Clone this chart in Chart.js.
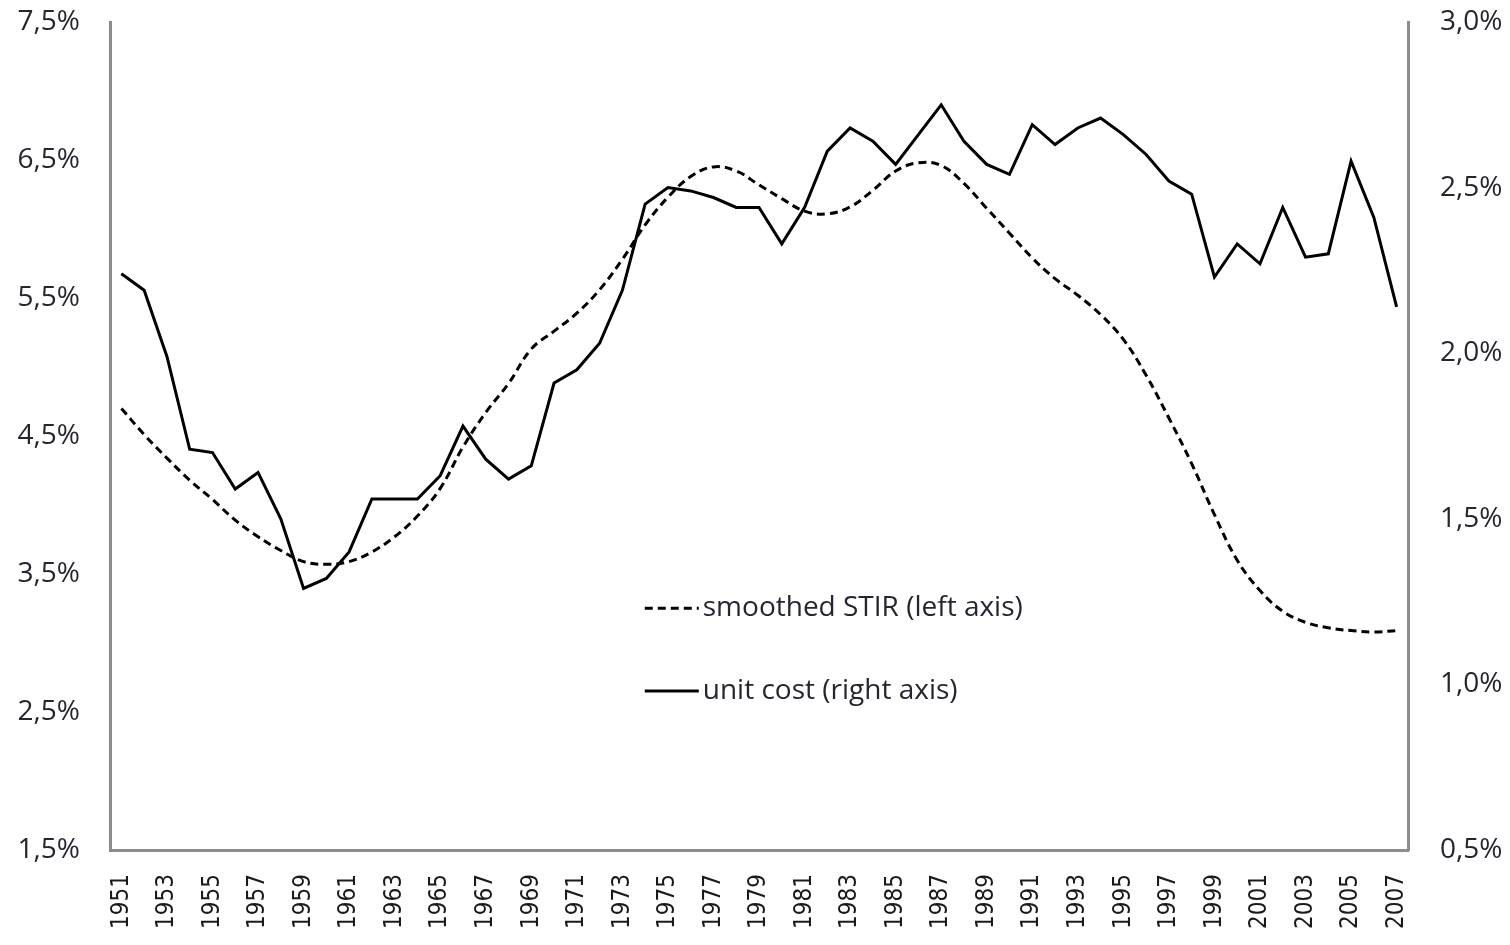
<!DOCTYPE html>
<html>
<head>
<meta charset="utf-8">
<script src="https://cdn.jsdelivr.net/npm/chart.js@4.4.1/dist/chart.umd.min.js"></script>
<style>
  body { margin: 0; background: #fff; }
</style>
</head>
<body>
<canvas id="myChart" width="1510" height="945"></canvas>
<script>
const years = [];
for (let y = 1951; y <= 2007; y++) years.push(String(y));

// smoothed short-term interest rate, % (left axis)
const stir = [
  4.70, 4.51, 4.34, 4.18, 4.04, 3.89, 3.77, 3.67, 3.59, 3.57,
  3.59, 3.66, 3.77, 3.92, 4.12, 4.42, 4.67, 4.88, 5.13, 5.26,
  5.39, 5.56, 5.78, 6.03, 6.23, 6.38, 6.45, 6.42, 6.32, 6.22,
  6.13, 6.11, 6.16, 6.28, 6.42, 6.48, 6.46, 6.33, 6.15, 5.97,
  5.79, 5.64, 5.52, 5.38, 5.20, 4.94, 4.63, 4.30, 3.93, 3.60,
  3.38, 3.23, 3.15, 3.11, 3.09, 3.08, 3.09
];

// unit cost, % (right axis)
const unitCost = [
  2.24, 2.19, 1.99, 1.71, 1.70, 1.59, 1.64, 1.50, 1.29, 1.32,
  1.40, 1.56, 1.56, 1.56, 1.63, 1.78, 1.68, 1.62, 1.66, 1.91,
  1.95, 2.03, 2.19, 2.45, 2.50, 2.49, 2.47, 2.44, 2.44, 2.33,
  2.44, 2.61, 2.68, 2.64, 2.57, 2.66, 2.75, 2.64, 2.57, 2.54,
  2.69, 2.63, 2.68, 2.71, 2.66, 2.60, 2.52, 2.48, 2.23, 2.33,
  2.27, 2.44, 2.29, 2.30, 2.58, 2.41, 2.14
];

const seriesNames = ['smoothed STIR (left axis)', 'unit cost (right axis)'];

const pct = v => v.toFixed(1).replace('.', ',') + '%';

// legend drawn inside the plot area
const insideLegend = {
  id: 'insideLegend',
  afterDraw(chart) {
    const { ctx, chartArea: a } = chart;
    const x0 = a.left + 0.412 * (a.right - a.left);
    const rows = [0.708, 0.808];
    ctx.save();
    chart.data.datasets.forEach((ds, i) => {
      const y = a.top + rows[i] * (a.bottom - a.top);
      ctx.beginPath();
      ctx.setLineDash(ds.borderDash || []);
      ctx.lineWidth = 3;
      ctx.strokeStyle = ds.borderColor;
      ctx.moveTo(x0, y);
      ctx.lineTo(x0 + 54, y);
      ctx.stroke();
      ctx.setLineDash([]);
      ctx.fillStyle = '#262630';
      ctx.font = '28px "Open Sans"';
      ctx.textBaseline = 'middle';
      ctx.textAlign = 'left';
      ctx.fillText(ds.label, x0 + 58, y);
    });
    ctx.restore();
  }
};

const axisColor = '#8c8c8c';

const fixVertical = w => s => {
  s.width = w;
  s.paddingTop = 0;
  s.paddingBottom = 0;
};

new Chart(document.getElementById('myChart'), {
  type: 'line',
  data: {
    labels: years,
    datasets: [
      {
        label: seriesNames[0],
        data: stir,
        yAxisID: 'y',
        borderColor: '#000',
        borderWidth: 3,
        borderDash: [8, 5],
        pointRadius: 0,
        tension: 0.4,
      },
      {
        label: seriesNames[1],
        data: unitCost,
        yAxisID: 'y1',
        borderColor: '#000',
        borderWidth: 3,
        pointRadius: 0,
        tension: 0,
      },
    ],
  },
  options: {
    responsive: false,
    animation: false,
    layout: { padding: { top: 22, left: 0, right: 0, bottom: 0 } },
    plugins: {
      legend: { display: false },
      tooltip: { enabled: false },
    },
    scales: {
      x: {
        offset: true,
        grid: { display: false },
        border: { display: true, color: axisColor, width: 3 },
        ticks: {
          autoSkip: false,
          minRotation: 90,
          maxRotation: 90,
          padding: 16,
          color: '#1a1a1a',
          font: { family: '"DejaVu Sans Condensed", "DejaVu Sans"', size: 24 },
          callback: (v, i) => (i % 2 === 0 ? years[i] : ''),
        },
        afterFit: s => { s.height = 95; },
      },
      y: {
        position: 'left',
        min: 1.5,
        max: 7.5,
        grid: { display: false },
        border: { display: true, color: axisColor, width: 3 },
        ticks: {
          stepSize: 1,
          padding: 22,
          color: '#262630',
          font: { family: '"Open Sans"', size: 28 },
          callback: v => pct(v),
        },
        afterFit: fixVertical(110),
      },
      y1: {
        position: 'right',
        min: 0.5,
        max: 3.0,
        grid: { display: false },
        border: { display: true, color: axisColor, width: 3 },
        ticks: {
          stepSize: 0.5,
          padding: 24,
          color: '#262630',
          font: { family: '"Open Sans"', size: 28 },
          callback: v => pct(v),
        },
        afterFit: fixVertical(102),
      },
    },
  },
  plugins: [insideLegend],
});
</script>
</body>
</html>
